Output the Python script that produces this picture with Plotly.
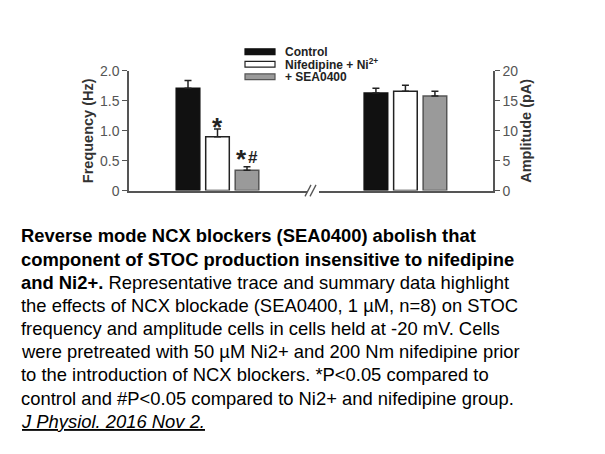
import plotly.graph_objects as go

# ---------------- data ----------------
categories = ["Control", "Nifedipine + Ni<sup>2+</sup>", "+ SEA0400"]
freq_hz = [1.71, 0.90, 0.34]
freq_err = [0.13, 0.13, 0.06]
amp_pa = [16.3, 16.6, 15.8]
amp_err = [0.8, 1.0, 0.8]
sig_labels = ["", "*", "*#"]
freq_ticks = [0, 0.5, 1.0, 1.5, 2.0]
freq_ticklabels = ["0", "0.5", "1.0", "1.5", "2.0"]
amp_ticks = [0, 5, 10, 15, 20]

caption_lines = [
    "<b>Reverse mode NCX blockers (SEA0400) abolish that</b>",
    "<b>component of STOC production insensitive to nifedipine</b>",
    "<b>and Ni2+.</b> Representative trace and summary data highlight",
    "the effects of NCX blockade (SEA0400, 1 µM, n=8) on STOC",
    "frequency and amplitude cells in cells held at -20 mV. Cells",
    "were pretreated with 50 µM Ni2+ and 200 Nm nifedipine prior",
    "to the introduction of NCX blockers. *P&lt;0.05 compared to",
    "control and #P&lt;0.05 compared to Ni2+ and nifedipine group.",
    "<u><i>J Physiol. 2016 Nov 2.</i></u>",
]

# ---------------- styles ----------------
W, H = 605, 454
FONT = "Liberation Sans, Arial, sans-serif"
bar_fill = ["#111111", "#ffffff", "#9a9a9a"]
bar_line = ["#111111", "#222222", "#555555"]
AX = "#555555"
# glyph style: font size, downward correction (px)
glyph_style = {"*": (26, 6), "#": (17, 5)}


def px(x):
    return x / W


def py(y):
    return 1 - y / H


xs = list(range(len(categories)))

fig = go.Figure()

fig.add_trace(go.Bar(
    x=xs, y=freq_hz, width=0.8,
    marker=dict(color=bar_fill, line=dict(color=bar_line, width=1.5)),
    error_y=dict(type="data", symmetric=False, array=freq_err,
                 arrayminus=[0] * len(xs), color="#222222",
                 thickness=1.5, width=3.5),
    xaxis="x", yaxis="y", showlegend=False,
))
fig.add_trace(go.Bar(
    x=xs, y=amp_pa, width=0.8,
    marker=dict(color=bar_fill, line=dict(color=bar_line, width=1.5)),
    error_y=dict(type="data", symmetric=False, array=amp_err,
                 arrayminus=[0] * len(xs), color="#222222",
                 thickness=1.5, width=3.5),
    xaxis="x2", yaxis="y2", showlegend=False,
))

ydom = [py(181), py(57)]

fig.update_layout(
    width=W, height=H,
    margin=dict(l=0, r=0, t=0, b=0),
    paper_bgcolor="white", plot_bgcolor="white",
    font=dict(family=FONT, color="#000"),
    xaxis=dict(domain=[px(121), px(299)], range=[-2.0, -2.0 + 178 / 29.5],
               showline=True, linecolor=AX, linewidth=1.5,
               showticklabels=False, ticks="", showgrid=False, zeroline=False),
    xaxis2=dict(domain=[px(311), px(485)], range=[-1.93, -1.93 + 174 / 29.5],
                showline=True, linecolor=AX, linewidth=1.5,
                showticklabels=False, ticks="", showgrid=False, zeroline=False,
                anchor="y2"),
    yaxis=dict(domain=ydom, range=[0, 2.0], tickvals=freq_ticks,
               ticktext=freq_ticklabels, ticks="outside", ticklen=5,
               tickwidth=1.2, tickcolor=AX,
               showline=True, linecolor=AX, linewidth=1.5,
               showgrid=False, zeroline=False,
               tickfont=dict(size=14, color="#555"),
               title=dict(text="<b>Frequency (Hz)</b>", standoff=3,
                          font=dict(size=14.5, color="#333")),
               anchor="x"),
    yaxis2=dict(domain=ydom, range=[0, 20], tickvals=amp_ticks,
                ticks="outside", ticklen=5, tickwidth=1.2, tickcolor=AX,
                showline=True, linecolor=AX, linewidth=1.5,
                showgrid=False, zeroline=False, side="right",
                tickfont=dict(size=14, color="#555"),
                title=dict(text="<b>Amplitude (pA)</b>", standoff=3,
                           font=dict(size=14.5, color="#333")),
                anchor="x2"),
)

# significance markers (one annotation per glyph, anchored to the error-bar top)
for i, lab in enumerate(sig_labels):
    if not lab:
        continue
    n = len(lab)
    step = 11.5
    lift = 8 if n == 1 else 14
    for k, ch in enumerate(lab):
        size, extra = glyph_style[ch]
        xoff = (k - (n - 1) / 2) * step
        fig.add_annotation(x=xs[i], y=freq_hz[i] + freq_err[i], xref="x", yref="y",
                           text="<b>" + ch + "</b>", showarrow=False,
                           yanchor="middle", xanchor="center",
                           xshift=xoff, yshift=lift - extra,
                           font=dict(size=size, color="#222"))

# axis break marks
for x0 in (297, 302):
    fig.add_shape(type="line", xref="paper", yref="paper",
                  x0=px(x0), y0=py(187), x1=px(x0 + 6), y1=py(175),
                  line=dict(color=AX, width=1.3))

# legend (manual, wide swatches)
leg_rows = [37, 50, 63]
for i, cat in enumerate(categories):
    yc = leg_rows[i]
    fig.add_shape(type="rect", xref="paper", yref="paper",
                  x0=px(237), x1=px(267), y0=py(yc + 3), y1=py(yc - 3),
                  fillcolor=bar_fill[i], line=dict(color=bar_line[i], width=1.2))
    fig.add_annotation(x=px(275), y=py(yc), xref="paper", yref="paper",
                       text="<b>" + cat + "</b>", showarrow=False,
                       xanchor="left", yanchor="middle",
                       font=dict(size=12, color="#222"))

# caption
for i, line in enumerate(caption_lines):
    fig.add_annotation(x=px(11), y=py(228 + 24 * i), xref="paper", yref="paper",
                       text=line, showarrow=False, xanchor="left", yanchor="middle",
                       align="left", font=dict(size=18.4, color="#000"))

fig.write_html("out.html")
